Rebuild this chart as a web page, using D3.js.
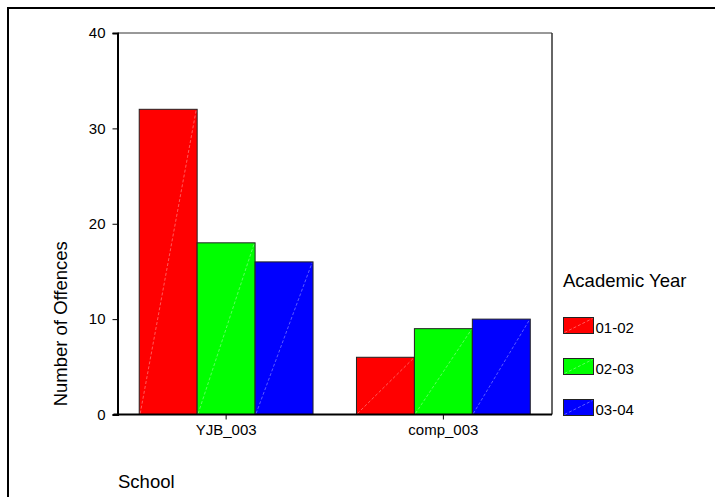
<!DOCTYPE html>
<html>
<head>
<meta charset="utf-8">
<script src="https://cdn.jsdelivr.net/npm/d3@7"></script>
<style>
  html, body { margin: 0; padding: 0; background: #fff; }
  svg { display: block; font-family: "Liberation Sans", Arial, sans-serif; }
</style>
</head>
<body>
<svg id="chart" width="715" height="497"></svg>
<script>
const schools = ["YJB_003", "comp_003"];
const years = ["01-02", "02-03", "03-04"];
const offences_0102 = [32, 6];
const offences_0203 = [18, 9];
const offences_0304 = [16, 10];
const yTicks = [0, 10, 20, 30, 40];
const colors = ["#ff0000", "#00ff00", "#0000ff"];

const seriesValues = [offences_0102, offences_0203, offences_0304];

const svg = d3.select("#chart");

// outer border (open at right/bottom, clipped by window)
svg.append("rect")
  .attr("x", 8).attr("y", 8)
  .attr("width", 760).attr("height", 560)
  .attr("fill", "none").attr("stroke", "#000").attr("stroke-width", 2);

const pL = 117.5, pR = 552, pT = 33, pB = 414.5;

const x0 = d3.scaleBand().domain(schools).range([pL, pR]).padding(0);
const x1 = d3.scaleBand().domain(years)
  .range([x0.bandwidth() * 0.1, x0.bandwidth() * 0.9]).padding(0);
const y = d3.scaleLinear().domain([0, 40]).range([pB, pT]);

// plot frame top/right
svg.append("line").attr("x1", pL).attr("x2", pR).attr("y1", pT).attr("y2", pT)
  .attr("stroke", "#333").attr("stroke-width", 1);
svg.append("line").attr("x1", pR).attr("x2", pR).attr("y1", pT).attr("y2", pB)
  .attr("stroke", "#333").attr("stroke-width", 1.5);

// bars
const data = [];
schools.forEach((s, i) => {
  years.forEach((yr, j) => {
    data.push({ school: s, year: yr, value: seriesValues[j][i], color: colors[j] });
  });
});

const g = svg.append("g");
const bars = g.selectAll("g.bar").data(data).enter().append("g").attr("class", "bar");
bars.append("rect")
  .attr("x", d => x0(d.school) + x1(d.year))
  .attr("y", d => y(d.value))
  .attr("width", x1.bandwidth())
  .attr("height", d => y(0) - y(d.value))
  .attr("fill", d => d.color)
  .attr("stroke", "#222").attr("stroke-width", 1);
bars.append("line")
  .attr("x1", d => x0(d.school) + x1(d.year) + 1)
  .attr("y1", y(0) - 1)
  .attr("x2", d => x0(d.school) + x1(d.year) + x1.bandwidth() - 1)
  .attr("y2", d => y(d.value) + 1)
  .attr("stroke", "#fff").attr("stroke-opacity", 0.45)
  .attr("stroke-width", 0.8).attr("stroke-dasharray", "3,2");

// y axis
const yAxis = d3.axisLeft(y).tickValues(yTicks).tickSize(5).tickPadding(7).tickFormat(d3.format("d"));
const yg = svg.append("g").attr("transform", `translate(${pL},0)`).call(yAxis);
yg.select(".domain").attr("stroke", "#000").attr("stroke-width", 2);
yg.selectAll(".tick line").attr("stroke", "#000").attr("stroke-width", 1);
yg.selectAll("text").attr("font-size", "15px").attr("fill", "#000")
  .attr("font-family", "Liberation Sans, Arial, sans-serif");

// x axis
const xAxis = d3.axisBottom(x0).tickSize(5).tickPadding(5).tickSizeOuter(0);
const xg = svg.append("g").attr("transform", `translate(0,${pB})`).call(xAxis);
xg.select(".domain").attr("stroke", "#000").attr("stroke-width", 2)
  .attr("d", `M${pL - 4},0H${pR}`);
xg.selectAll(".tick line").attr("stroke", "#000").attr("stroke-width", 1);
xg.selectAll("text").attr("font-size", "15px").attr("fill", "#000")
  .attr("font-family", "Liberation Sans, Arial, sans-serif");

// axis titles
svg.append("text")
  .attr("transform", `translate(67,${(pT + pB) / 2 + 100}) rotate(-90)`)
  .attr("text-anchor", "middle")
  .attr("font-size", "18.5px").attr("fill", "#000")
  .text("Number of Offences");

svg.append("text")
  .attr("x", 118).attr("y", 488)
  .attr("font-size", "18.5px").attr("fill", "#000")
  .text("School");

// legend
svg.append("text")
  .attr("x", 563).attr("y", 287)
  .attr("font-size", "18.5px").attr("fill", "#000")
  .text("Academic Year");

const legendY = d3.scalePoint().domain(years).range([317, 399]);
const lg = svg.selectAll("g.leg").data(years).enter().append("g").attr("class", "leg")
  .attr("transform", d => `translate(563.5,${legendY(d) + 0.5})`);
lg.append("rect").attr("width", 30).attr("height", 16)
  .attr("fill", (d, i) => colors[i]).attr("stroke", "#222").attr("stroke-width", 1);
lg.append("line").attr("x1", 1).attr("y1", 15).attr("x2", 29).attr("y2", 1)
  .attr("stroke", "#fff").attr("stroke-opacity", 0.45).attr("stroke-width", 0.8)
  .attr("stroke-dasharray", "3,2");
lg.append("text").attr("x", 32).attr("y", 15.5)
  .attr("font-size", "15px").attr("fill", "#000")
  .text(d => d);
</script>
</body>
</html>
